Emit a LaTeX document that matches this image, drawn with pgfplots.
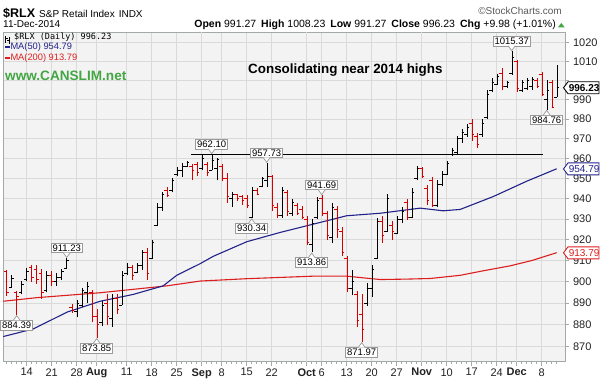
\documentclass[border=0pt]{standalone}
\usepackage{pgfplots}
\pgfplotsset{compat=1.18}
\usepackage{pgfplotstable}
\usepackage{fontspec}
\setmainfont{Liberation Sans}
\newfontfamily\dvmono{DejaVu Sans Mono}
\usetikzlibrary{calc}

\definecolor{plotbg}{HTML}{F3F3F3}
\definecolor{gridc}{HTML}{DADADA}
\definecolor{monthc}{HTML}{B8B8B8}
\definecolor{framec}{HTML}{A3A9A9}
\definecolor{bred}{HTML}{D40000}
\definecolor{ma50c}{HTML}{22228A}
\definecolor{ma200c}{HTML}{DC1E1E}
\definecolor{cansc}{HTML}{43A643}
\definecolor{lblc}{HTML}{9A9A9A}
\definecolor{txtc}{HTML}{222222}

\newcommand{\fs}[1]{\fontsize{#1}{#1}\selectfont}

% i = trading-day index (0 = 28 Jul 2014)
\pgfplotstableread{
i O H L C
-13 897.5 903 897 901.5
-11 895 900.3 894 899
-10 901 906.7 900.3 905
-6 896 905 895 903
-4 900 904 898 902
-3 902 906 901 905
-2 906.5 911.23 906 910
0 886 891.5 883.5 890
1 889 897 888 896
2 895 900 890 898
5 881 891 879.5 889
7 883 894 879 892
9 889 905 889 903
10 904 909 903 907
12 904.5 909 904 908
13 908 915 905.5 914
15 911 920 910.5 919
16 927 938 926.5 936
17 936 943 934 942
19 944 950 943 949
20 952 955.5 951 954
21 954 957.7 950.8 956
22 956 958.5 955.5 958
25 955 961.5 954 960
27 954 962.1 954 959
28 955 960 949 959.5
31 940 943 936 942
35 931 945.8 930.34 944
37 946 950.8 945.5 950
38 949 957.73 945.8 951
41 932 945.8 930.5 944
43 933 939.6 931.6 938
47 918 930 913.86 928
48 931 941 930 939
51 921 938 918.5 936
55 897 905.5 893.6 900
58 890 899.5 888.7 897
59 897 908 893 906
60 911 930.5 910.5 929
62 924 942.5 923.7 940
64 923 931.6 922.6 930
65 930 936 928 934
67 931 945 930.5 943
68 950 956 949 955
72 937 949 936 947
73 947 953.5 946 952
74 952 958.5 951.7 957.5
75 962 965 961 964
76 963 971.5 962 970
77 970 974.8 968 973
78 972 977.5 971 976
81 972 980 971 978
82 981 995 980 993
83 995 1001 994 999
84 998 1003.6 997.6 1002
86 997 999.5 996 999
87 1004 1015.37 1003 1012
89 995 1000 994 999
90 996 1001 995 1000
91 997 1002 995 1000.5
94 990 1000 984.76 995
96 991.27 1008.23 991.27 996.23
}\upbars

\pgfplotstableread{
i O H L C
-14 905 905.5 893.5 895
-12 895 895.5 884.39 893
-9 907 908 900 902
-8 906 908 899 901
-7 904 906 892 895
-5 903 905 898 900
-1 888 889.5 885.5 886.5
3 895 896 881 884
4 884 887 873.85 880
6 890 894 880 884
8 892 894 885 887
11 907 908 901 903
14 914 916 901 904
18 944 945.5 941 941.5
23 956 957 949 954
24 957 958 951 953
26 957 958 951 953
29 956 957 948.5 950
30 950 952.5 938 941
32 942 942.5 938.6 940
33 941 942 937 939
34 940 941.7 935.5 937
36 944 945 941.6 942
39 951 951.7 934 937
40 936 938 930.5 932
42 943 944 931.6 934
44 937 938 932 933
45 935 936.5 930 931
46 930 931.6 917.6 919
49 940 941.69 931.6 933
50 933 934 920 922
52 935 936.5 921 925
53 924 926 912 914
54 911 912 895 897
56 894 895.5 879 882
57 885 894 871.97 878
61 929 931.6 918.6 922
63 927 929 920 924
66 938 940 929.5 931
69 955 955.5 950 951
70 945 946.5 936.7 939
71 949 950.8 936 937
79 978 980 969 972
80 971 972.6 965 967
85 1004 1006.4 995 997
88 1010 1010.8 994 996
92 1000 1001 996 997
93 1003 1004.5 992 993
95 999 1000 985.5 986.25
}\dnbars

\tikzset{
  lbl/.style={draw=lblc, fill=white, line width=0.7pt, inner xsep=1.6pt, inner ysep=1.4pt, font=\fs{9.5}, text=black},
}
\pgfplotsset{
  ohlc/.style={#1, line width=1.1pt, only marks, mark=*, mark size=0pt,
    mark options={draw=none, fill=none}},
}
\newcommand{\uplabel}[3]{%
  \node[lbl, anchor=south] (L) at ([yshift=5pt]axis cs:#1,#2) {#3};
  \path[fill=white, draw=lblc, line width=0.7pt] ([xshift=-3.5pt,yshift=0.4pt]L.south) -- ([yshift=0.6pt]axis cs:#1,#2) -- ([xshift=3.5pt,yshift=0.4pt]L.south);
}
\newcommand{\dnlabel}[3]{%
  \node[lbl, anchor=north] (L) at ([yshift=-5pt]axis cs:#1,#2) {#3};
  \path[fill=white, draw=lblc, line width=0.7pt] ([xshift=-3.5pt,yshift=-0.4pt]L.north) -- ([yshift=-0.6pt]axis cs:#1,#2) -- ([xshift=3.5pt,yshift=-0.4pt]L.north);
}
\newcommand{\valtag}[4]{% coordinate, border colour, text colour, text
  \draw[fill=white, draw=#2, line width=0.9pt] ([xshift=-1.5pt]#1) -- ++(4.5pt,6pt) -- ++(31pt,0) -- ++(0,-12pt) -- ++(-31pt,0) -- cycle;
  \node[anchor=west, inner sep=0, text=#3] at ([xshift=3.6pt]#1) {#4};
}

\begin{document}
\begin{tikzpicture}
\useasboundingbox (-3.3pt,-16pt) rectangle (604.7pt,362pt);
\begin{axis}[
  at={(0pt,0pt)}, anchor=south west,
  scale only axis, width=561.7pt, height=329.7pt,
  xmin=-14.68, xmax=97.66, ymin=863, ymax=1025.6,
  ymode=log,
  clip=false,
  axis background/.style={fill=plotbg},
  axis line style={framec, line width=0.8pt},
  ytick={870,880,890,900,910,920,930,940,950,960,970,980,990,1000,1010,1020},
  yticklabels={870,880,890,900,910,920,930,940,950,960,970,980,990,{},1010,1020},
  ytick pos=right, yticklabel pos=right,
  xtick pos=bottom,
  tick align=outside,
  major tick length=4pt,
  minor tick length=2pt,
  xtick={-10,-5,0,4,10,15,20,25,29,34,39,46,49,54,59,64,69,74,79,84,88,93},
  xticklabels={14,21,28,\textbf{Aug},11,18,25,\textbf{Sep},8,15,22,\textbf{Oct},6,13,20,27,\textbf{Nov},10,17,24,\textbf{Dec},8},
  minor xtick={-14,-13,...,96},
  xmajorgrids, ymajorgrids,
  major grid style={gridc, line width=0.7pt},
  extra x ticks={4,25,46,69,88},
  extra x tick labels={},
  extra x tick style={grid style={monthc, line width=0.8pt}},
  tick style={framec, line width=0.7pt},
  ticklabel style={font=\fs{11}, text=txtc},
  yticklabel style={xshift=0.5pt},
  xticklabel style={yshift=1pt},
]
% moving averages
\addplot[ma200c, line width=1.1pt] coordinates {
(-14.68,890.8) (-8,892.5) (4.7,894.8) (18,898) (24.7,900.3) (34,901.4) (47.3,902.6) (54,902.6) (60.7,901) (66,901.2) (70.7,901.5) (76.7,903) (81,905) (86.7,907.5) (91,910) (96,913.79)};
\addplot[ma50c, line width=1.1pt] coordinates {
(-14.68,874.5) (-8.7,878) (-1.9,885.8) (4.7,890.8) (11.3,894) (17.3,898) (20,903) (24.7,908.5) (27.3,912) (34,919) (40.7,923.5) (47.3,927.5) (54,931.6) (60.7,932.8) (68.7,935.3) (73.3,934) (76.7,934.7) (83.3,941) (90,948.6) (96,954.79)};
% horizontal resistance line
\addplot[black, line width=1pt] coordinates {(22.9,962.1) (93.3,962.1)};

% up bars (black)
\addplot[ohlc=black, error bars/.cd, y dir=plus, y explicit, error mark=none]
  table[x=i, y=L, y error expr=\thisrow{H}-\thisrow{L}] {\upbars};
\addplot[ohlc=black, error bars/.cd, x dir=minus, x fixed=0.5, error mark=none]
  table[x=i, y=O] {\upbars};
\addplot[ohlc=black, error bars/.cd, x dir=plus, x fixed=0.5, error mark=none]
  table[x=i, y=C] {\upbars};
% down bars (red)
\addplot[ohlc=bred, error bars/.cd, y dir=plus, y explicit, error mark=none]
  table[x=i, y=L, y error expr=\thisrow{H}-\thisrow{L}] {\dnbars};
\addplot[ohlc=bred, error bars/.cd, x dir=minus, x fixed=0.5, error mark=none]
  table[x=i, y=O] {\dnbars};
\addplot[ohlc=bred, error bars/.cd, x dir=plus, x fixed=0.5, error mark=none]
  table[x=i, y=C] {\dnbars};

% high / low annotations
\uplabel{87}{1015.37}{1015.37}
\dnlabel{94}{984.76}{984.76}
\uplabel{27}{962.1}{962.10}
\uplabel{38}{957.73}{957.73}
\dnlabel{35}{930.34}{930.34}
\uplabel{49}{941.69}{941.69}
\dnlabel{47}{913.86}{913.86}
\dnlabel{57}{871.97}{871.97}
\uplabel{-2}{911.23}{911.23}
\dnlabel{-12}{884.39}{884.39}
\dnlabel{4}{873.85}{873.85}

\coordinate (tA) at (axis cs:97.66,996.23);
\coordinate (tB) at (axis cs:97.66,954.79);
\coordinate (tC) at (axis cs:97.66,913.79);
\end{axis}

% right-hand value tags
\valtag{tA}{black}{black}{\fs{10}\bfseries 996.23}
\valtag{tB}{ma50c}{ma50c}{\fs{10}954.79}
\valtag{tC}{ma200c}{ma200c}{\fs{10}913.79}

% header
\node[anchor=base west, inner sep=0] at (-0.3pt,344.5pt) {\fs{12.5}\bfseries\$RLX};
\node[anchor=base west, inner sep=0] at (35.7pt,344.5pt) {\fs{10}S\&P Retail Index\hspace{4pt}INDX};
\node[anchor=base east, inner sep=0, text=black!65] at (558.7pt,347pt) {\fs{10}©StockCharts.com};
\node[anchor=base west, inner sep=0] at (-0.3pt,334pt) {\fs{10}11-Dec-2014};
\node[anchor=base east, inner sep=0] at (552.7pt,334pt) {\fs{10.5}\textbf{Open} 991.27\hspace{5pt}\textbf{High} 1008.23\hspace{5pt}\textbf{Low} 991.27\hspace{5pt}\textbf{Close} 996.23\hspace{5pt}\textbf{Chg} +9.98 (+1.01\%)};
\fill[cansc] (554.5pt,334.5pt) -- (561.5pt,334.5pt) -- (558pt,339pt) -- cycle;

% in-plot legend
\draw[black, line width=0.8pt] (2.5pt,319pt) -- (2.5pt,326pt) (2.5pt,324pt) -- (4.2pt,324pt) (5.7pt,318pt) -- (5.7pt,325pt) (4pt,322pt) -- (5.7pt,322pt);
\node[anchor=base west, inner sep=0] at (10.7pt,322pt) {\dvmono\fs{8.5}\$RLX (Daily) 996.23};
\draw[ma50c, line width=2pt] (1.7pt,315pt) -- (6.7pt,315pt);
\node[anchor=base west, inner sep=0, text=ma50c] at (7pt,312pt) {\fs{9.3}MA(50) 954.79};
\draw[ma200c, line width=2pt] (1.7pt,304pt) -- (6.7pt,304pt);
\node[anchor=base west, inner sep=0, text=ma200c] at (7pt,301pt) {\fs{9.3}MA(200) 913.79};
\node[anchor=base west, inner sep=0, text=cansc] at (1.7pt,281pt) {\fs{13.6}\bfseries www.CANSLIM.net};
\node[anchor=base west, inner sep=0] at (244.7pt,288pt) {\fs{13.4}\bfseries Consolidating near 2014 highs};
\end{tikzpicture}
\end{document}
